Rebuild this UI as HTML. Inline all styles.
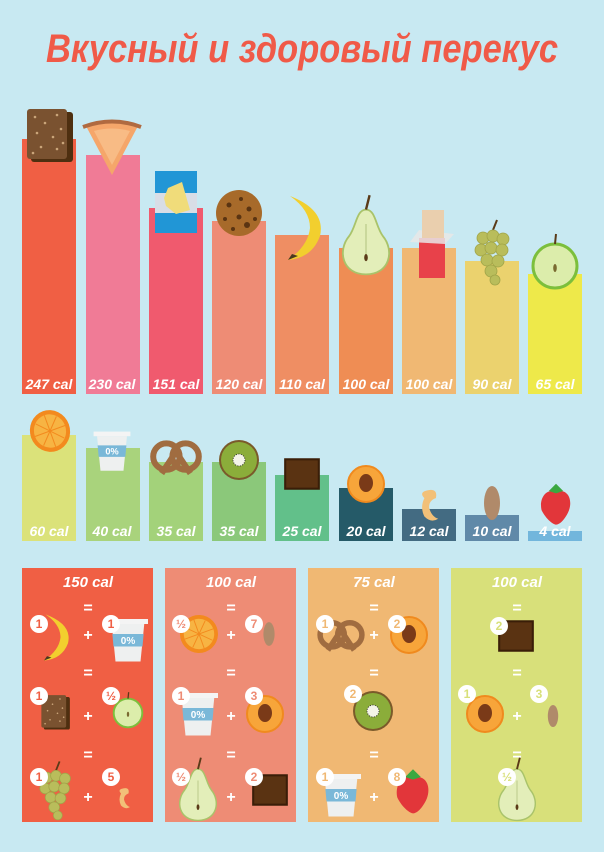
<!DOCTYPE html>
<html><head><meta charset="utf-8"><style>
html,body{margin:0;padding:0;background:#c8e9f2;}
svg{display:block;}
.l{font-family:"Liberation Sans",sans-serif;font-weight:bold;font-style:italic;font-size:14px;fill:#fff;text-anchor:middle;}
.t{font-family:"Liberation Sans",sans-serif;font-weight:bold;font-style:italic;font-size:15px;fill:#fff;text-anchor:middle;}
.s{font-family:"Liberation Sans",sans-serif;font-weight:bold;font-size:16px;fill:#fff;text-anchor:middle;}
.b{font-family:"Liberation Sans",sans-serif;font-weight:bold;font-size:12px;text-anchor:middle;}
</style></head><body>
<svg width="604" height="852" viewBox="0 0 604 852" xmlns="http://www.w3.org/2000/svg">
<defs>
<g id="brownie"><rect x="-18" y="-23" width="42" height="50" rx="3" fill="#4e2f10"/><rect x="-22" y="-26" width="40" height="50" rx="3" fill="#7a5230"/>
<g fill="#caa57a"><circle cx="-14" cy="-18" r="1.3"/><circle cx="-4" cy="-12" r="1.3"/><circle cx="8" cy="-20" r="1.3"/><circle cx="-12" cy="-2" r="1.3"/><circle cx="4" cy="2" r="1.3"/><circle cx="12" cy="-6" r="1.3"/><circle cx="-8" cy="12" r="1.3"/><circle cx="8" cy="14" r="1.3"/><circle cx="-16" cy="18" r="1.3"/><circle cx="14" cy="8" r="1.3"/></g></g>
<g id="pie"><path d="M-26,-15 Q0,-22 26,-15 L0,34 Z" fill="#f5a66a"/><path d="M-18,-10 Q0,-15 18,-10 L0,24Z" fill="#f8bb85"/><path d="M-29,-14 Q0,-25 29,-14" stroke="#b06a40" stroke-width="4" fill="none"/></g>
<g id="chips"><rect x="-21" y="-31" width="42" height="62" fill="#2196d6"/><rect x="-21" y="-9" width="42" height="20" fill="#d8dde6"/><path d="M-8,-14 L6,-20 L10,-6 L14,8 L0,12 L-10,4 L-12,-4Z" fill="#f0dc7a"/></g>
<g id="cookie"><circle r="23" fill="#a76a2a"/><g fill="#5a3412"><circle cx="-10" cy="-8" r="2.5"/><circle cx="2" cy="-14" r="2"/><circle cx="10" cy="-4" r="2.5"/><circle cx="-14" cy="6" r="2"/><circle cx="0" cy="4" r="2.5"/><circle cx="8" cy="12" r="3"/><circle cx="-6" cy="16" r="2"/><circle cx="16" cy="6" r="2"/></g></g>
<g id="banana"><path d="M-14,-30 Q22,-16 16,10 Q8,32 -16,34 Q4,20 6,2 Q6,-16 -14,-30Z" fill="#f2cf2e"/><path d="M-16,34 l4,-6 l6,2z" fill="#4a3a20"/></g>
<g id="pear"><path d="M0,-22 C8,-22 8,-8 14,0 C24,12 20,32 0,32 C-20,32 -24,12 -14,0 C-8,-8 -8,-22 0,-22Z" fill="#e3eeb9" stroke="#a9c36a" stroke-width="1.5"/><path d="M0,-22 L3,-34" stroke="#5a3a18" stroke-width="2"/><line x1="0" y1="-10" x2="0" y2="18" stroke="#b9c98a"/><ellipse cx="0" cy="18" rx="1.5" ry="3" fill="#5a3a18"/></g>
<g id="bar"><rect x="-13" y="-6" width="26" height="40" fill="#e8414a"/><path d="M-22,-2 L-13,-14 L22,-10 L13,0Z" fill="#e8e8e8" opacity=".85"/><rect x="-10" y="-34" width="22" height="28" fill="#eacfae"/></g>
<g id="grapes"><path d="M0,-24 L4,-34" stroke="#5a3a18" stroke-width="2"/><g fill="#b9bd5b" stroke="#a0a448" stroke-width=".8"><circle cx="-10" cy="-16" r="6"/><circle cx="0" cy="-18" r="6"/><circle cx="10" cy="-15" r="6"/><circle cx="-12" cy="-4" r="6"/><circle cx="-2" cy="-6" r="6"/><circle cx="9" cy="-4" r="6"/><circle cx="-6" cy="6" r="6"/><circle cx="5" cy="7" r="6"/><circle cx="-2" cy="17" r="6"/><circle cx="2" cy="26" r="5"/></g></g>
<g id="apple"><circle r="22" fill="#dcedab" stroke="#7cbf3c" stroke-width="3"/><path d="M0,-22 L1,-32" stroke="#5a3a18" stroke-width="2"/><ellipse cx="0" cy="2" rx="1.8" ry="4" fill="#7a6a30"/></g>
<g id="orange"><circle r="20" fill="#f38a1e"/><circle r="16" fill="#f7b443"/><g stroke="#f38a1e" stroke-width="1"><line x1="-16" y1="0" x2="16" y2="0"/><line x1="0" y1="-16" x2="0" y2="16"/><line x1="-11" y1="-11" x2="11" y2="11"/><line x1="-11" y1="11" x2="11" y2="-11"/></g></g>
<g id="yogurt"><path d="M-13,-12 L13,-12 L10,18 L-10,18Z" fill="#eef0f0"/><rect x="-16" y="-16" width="32" height="4" fill="#f4f4f4"/><path d="M-12.5,-4 L12.5,-4 L11.6,6 L-11.6,6Z" fill="#7ab8d8"/><text x="0" y="4" font-family="Liberation Sans,sans-serif" font-size="8" font-weight="bold" fill="#fff" text-anchor="middle">0%</text></g>
<g id="pretzel" fill="none" stroke="#a06c40" stroke-width="5"><circle cx="-8" cy="-2" r="11"/><circle cx="8" cy="-2" r="11"/><path d="M-12,12 L0,-6 L12,12"/></g>
<g id="kiwi"><circle r="20" fill="#7a5a2a"/><circle r="18" fill="#8bad3a"/><circle r="6" fill="#f4f4e8" stroke="#333" stroke-width="1" stroke-dasharray="1 1.5"/></g>
<g id="choco"><rect x="-17" y="-15" width="34" height="30" fill="#3a1e08"/><rect x="-15" y="-13" width="30" height="26" fill="#5a3312"/></g>
<g id="peach"><circle r="18" fill="#f7a53a" stroke="#f08a1e" stroke-width="2"/><ellipse cx="0" cy="-1" rx="7" ry="9" fill="#7a3a18"/></g>
<g id="cashew"><path d="M-4,-12 Q8,-16 6,-6 Q0,-4 0,2 Q2,10 8,12 Q2,16 -4,10 Q-8,2 -4,-6 Q-8,-10 -4,-12Z" fill="#f2c078"/></g>
<g id="almond"><ellipse rx="8" ry="17" fill="#b08a6a"/></g>
<g id="straw"><path d="M0,-10 C12,-12 14,0 10,8 C6,16 2,18 0,18 C-2,18 -8,14 -12,6 C-14,-2 -10,-12 0,-10Z" fill="#e2363a"/><path d="M-6,-10 L0,-16 L6,-10 L0,-8Z" fill="#3aa840"/></g>
</defs>

<text x="302" y="62" textLength="512" lengthAdjust="spacingAndGlyphs" font-family="Liberation Sans,sans-serif" font-style="italic" font-weight="bold" font-size="40" fill="#f05a48" text-anchor="middle">Вкусный и здоровый перекус</text>

<rect x="22" y="139" width="54" height="255" fill="#f05f44"/>
<rect x="86" y="155" width="54" height="239" fill="#f07b96"/>
<rect x="149" y="208" width="54" height="186" fill="#f05a6e"/>
<rect x="212" y="221" width="54" height="173" fill="#ee8c75"/>
<rect x="275" y="235" width="54" height="159" fill="#ef8e63"/>
<rect x="339" y="248" width="54" height="146" fill="#ef8d54"/>
<rect x="402" y="248" width="54" height="146" fill="#f0b873"/>
<rect x="465" y="261" width="54" height="133" fill="#ebd26e"/>
<rect x="528" y="274" width="54" height="120" fill="#eee94a"/>
<use href="#brownie" transform="translate(49,135)"/>
<use href="#pie" transform="translate(112,141)"/>
<use href="#chips" transform="translate(176,202)"/>
<use href="#cookie" transform="translate(239,213)"/>
<use href="#banana" transform="translate(304,226)"/>
<use href="#pear" transform="translate(366,236) scale(1.2)"/>
<use href="#bar" transform="translate(432,244)"/>
<use href="#grapes" transform="translate(493,254)"/>
<use href="#apple" transform="translate(555,266)"/>
<g class="l"><text x="49" y="389">247 cal</text><text x="112" y="389">230 cal</text><text x="176" y="389">151 cal</text><text x="239" y="389">120 cal</text><text x="302" y="389">110 cal</text><text x="366" y="389">100 cal</text><text x="429" y="389">100 cal</text><text x="492" y="389">90 cal</text><text x="555" y="389">65 cal</text></g>

<rect x="22" y="435" width="54" height="106" fill="#dbe27a"/>
<rect x="86" y="448" width="54" height="93" fill="#a9d37c"/>
<rect x="149" y="462" width="54" height="79" fill="#a3d27a"/>
<rect x="212" y="462" width="54" height="79" fill="#8bc87a"/>
<rect x="275" y="475" width="54" height="66" fill="#62c08a"/>
<rect x="339" y="488" width="54" height="53" fill="#255a68"/>
<rect x="402" y="509" width="54" height="32" fill="#436b82"/>
<rect x="465" y="515" width="54" height="26" fill="#6089a8"/>
<rect x="528" y="531" width="54" height="10" fill="#72b6dc"/>
<use href="#orange" transform="translate(50,431) rotate(-20) scale(1,1.05)"/>
<use href="#yogurt" transform="translate(112,450) scale(1.15)"/>
<use href="#pretzel" transform="translate(176,459) scale(1.2)"/>
<use href="#kiwi" transform="translate(239,460)"/>
<use href="#choco" transform="translate(302,474) scale(1.05)"/>
<use href="#peach" transform="translate(366,484)"/>
<use href="#cashew" transform="translate(429,505) scale(1.15)"/>
<use href="#almond" transform="translate(492,503)"/>
<use href="#straw" transform="translate(556,503) scale(1.2)"/>
<g class="l"><text x="49" y="536">60 cal</text><text x="112" y="536">40 cal</text><text x="176" y="536">35 cal</text><text x="239" y="536">35 cal</text><text x="302" y="536">25 cal</text><text x="366" y="536">20 cal</text><text x="429" y="536">12 cal</text><text x="492" y="536">10 cal</text><text x="555" y="536">4 cal</text></g>

<rect x="22" y="568" width="131" height="254" fill="#f05f44"/>
<rect x="165" y="568" width="131" height="254" fill="#ee8c75"/>
<rect x="308" y="568" width="131" height="254" fill="#f0b873"/>
<rect x="451" y="568" width="131" height="254" fill="#d8e07a"/>
<g class="t"><text x="88" y="587">150 cal</text><text x="231" y="587">100 cal</text><text x="374" y="587">75 cal</text><text x="517" y="587">100 cal</text></g>
<g class="s">
<text x="88" y="613">=</text><text x="88" y="640">+</text><text x="88" y="678">=</text><text x="88" y="721">+</text><text x="88" y="760">=</text><text x="88" y="802">+</text>
<text x="231" y="613">=</text><text x="231" y="640">+</text><text x="231" y="678">=</text><text x="231" y="721">+</text><text x="231" y="760">=</text><text x="231" y="802">+</text>
<text x="374" y="613">=</text><text x="374" y="640">+</text><text x="374" y="678">=</text><text x="374" y="760">=</text><text x="374" y="802">+</text>
<text x="517" y="613">=</text><text x="517" y="678">=</text><text x="517" y="721">+</text><text x="517" y="760">=</text>
</g>
<use href="#banana" transform="translate(56,636) scale(0.75,0.72)"/>
<use href="#yogurt" transform="translate(128,639) scale(1.25)"/>
<use href="#brownie" transform="translate(55,712) scale(0.62,0.65)"/>
<use href="#apple" transform="translate(128,713) scale(0.65)"/>
<use href="#grapes" transform="translate(56,792) scale(0.9)"/>
<use href="#cashew" transform="translate(124,798) scale(0.75)"/>
<use href="#orange" transform="translate(199,634) rotate(-20) scale(0.95)"/>
<use href="#almond" transform="translate(269,634) scale(0.7)"/>
<use href="#yogurt" transform="translate(198,713) scale(1.25)"/>
<use href="#peach" transform="translate(265,714)"/>
<use href="#pear" transform="translate(198,790) scale(0.95)"/>
<use href="#choco" transform="translate(270,790) scale(1.05)"/>
<use href="#pretzel" transform="translate(341,637) scale(1.1)"/>
<use href="#peach" transform="translate(409,635)"/>
<use href="#kiwi" transform="translate(373,711)"/>
<use href="#yogurt" transform="translate(341,794) scale(1.25)"/>
<use href="#straw" transform="translate(413,790) scale(1.3)"/>
<use href="#choco" transform="translate(516,636) scale(1.05)"/>
<use href="#peach" transform="translate(485,714)"/>
<use href="#almond" transform="translate(553,716) scale(0.65)"/>
<use href="#pear" transform="translate(517,790) scale(0.95)"/>
<g fill="#fff">
<circle cx="39" cy="624" r="9"/><circle cx="111" cy="624" r="9"/><circle cx="39" cy="696" r="9"/><circle cx="111" cy="696" r="9"/><circle cx="39" cy="777" r="9"/><circle cx="111" cy="777" r="9"/>
<circle cx="181" cy="624" r="9"/><circle cx="254" cy="624" r="9"/><circle cx="181" cy="696" r="9"/><circle cx="254" cy="696" r="9"/><circle cx="181" cy="777" r="9"/><circle cx="254" cy="777" r="9"/>
<circle cx="325" cy="624" r="9"/><circle cx="397" cy="624" r="9"/><circle cx="353" cy="694" r="9"/><circle cx="325" cy="777" r="9"/><circle cx="397" cy="777" r="9"/>
<circle cx="499" cy="626" r="9"/><circle cx="467" cy="694" r="9"/><circle cx="539" cy="694" r="9"/><circle cx="507" cy="777" r="9"/>
</g>
<g class="b" fill="#f05f44"><text x="39" y="628">1</text><text x="111" y="628">1</text><text x="39" y="700">1</text><text x="111" y="700">½</text><text x="39" y="781">1</text><text x="111" y="781">5</text></g>
<g class="b" fill="#ee8c75"><text x="181" y="628">½</text><text x="254" y="628">7</text><text x="181" y="700">1</text><text x="254" y="700">3</text><text x="181" y="781">½</text><text x="254" y="781">2</text></g>
<g class="b" fill="#f0b873"><text x="325" y="628">1</text><text x="397" y="628">2</text><text x="353" y="698">2</text><text x="325" y="781">1</text><text x="397" y="781">8</text></g>
<g class="b" fill="#d8e07a"><text x="499" y="630">2</text><text x="467" y="698">1</text><text x="539" y="698">3</text><text x="507" y="781">½</text></g>
</svg>
</body></html>
